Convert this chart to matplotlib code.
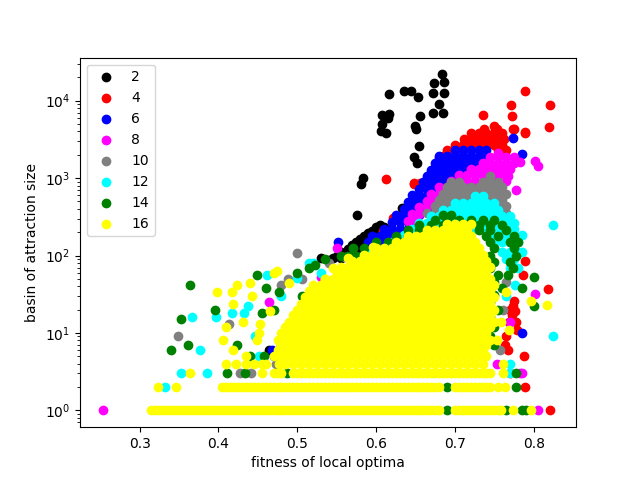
import matplotlib
matplotlib.use("Agg")
import matplotlib.pyplot as plt

labels = [2, 4, 6, 8, 10, 12, 14, 16]
colors = ["black", "red", "blue", "magenta", "gray", "cyan", "green", "yellow"]

# scattered (fitness, basin size) points
pts_2 = [(0.683, 21800), (0.686, 17500), (0.673, 16800), (0.636, 13500), (0.644, 13500),
         (0.617, 12100), (0.653, 11200), (0.672, 12600), (0.686, 12600), (0.680, 9060),
         (0.672, 6900), (0.685, 6900), (0.656, 6390), (0.608, 6600), (0.616, 6800),
         (0.615, 5960), (0.607, 4980), (0.606, 4070), (0.613, 3870), (0.649, 4730),
         (0.651, 4270), (0.654, 2600), (0.648, 1890), (0.652, 1580), (0.584, 1010),
         (0.581, 830), (0.576, 337), (0.633, 410), (0.464, 6), (0.470, 5)]
pts_4 = [(0.789, 13500), (0.821, 8900), (0.771, 8900), (0.736, 6600), (0.773, 6400),
         (0.819, 4500), (0.789, 3960), (0.775, 4300), (0.612, 970), (0.648, 830),
         (0.622, 305), (0.609, 205), (0.789, 84), (0.818, 37), (0.786, 56),
         (0.770, 20), (0.774, 22), (0.776, 19), (0.768, 14), (0.778, 14),
         (0.779, 11), (0.765, 9), (0.763, 7), (0.767, 6), (0.788, 5), (0.770, 3),
         (0.789, 2), (0.821, 1), (0.775, 26), (0.772, 17)]
pts_6 = [(0.774, 3300), (0.785, 2030), (0.680, 1840), (0.785, 10), (0.468, 6)]
pts_8 = [(0.782, 1620), (0.767, 1060), (0.778, 710), (0.802, 1660), (0.806, 1450),
         (0.550, 124), (0.530, 53), (0.464, 25), (0.802, 32), (0.770, 14),
         (0.753, 4), (0.782, 3), (0.785, 3), (0.806, 1), (0.253, 1)]
pts_10 = [(0.500, 107), (0.349, 9), (0.413, 13), (0.488, 50), (0.479, 41),
          (0.506, 50), (0.503, 9), (0.757, 6), (0.761, 20), (0.428, 3),
          (0.441, 3), (0.473, 4), (0.560, 95), (0.540, 80), (0.765, 45)]
pts_12 = [(0.776, 41), (0.825, 245), (0.824, 9), (0.770, 4), (0.770, 3),
          (0.367, 16), (0.397, 16), (0.417, 18), (0.376, 6), (0.353, 3), (0.385, 3),
          (0.332, 2), (0.462, 56), (0.438, 22), (0.520, 79), (0.515, 79), (0.500, 52),
          (0.432, 18), (0.447, 9), (0.452, 5), (0.605, 100), (0.614, 97),
          (0.580, 95), (0.590, 110), (0.530, 60), (0.480, 30), (0.765, 30)]
pts_14 = [(0.800, 53), (0.785, 38), (0.800, 22), (0.364, 41), (0.353, 15),
          (0.362, 7), (0.340, 6), (0.396, 20), (0.423, 7), (0.449, 56), (0.460, 38),
          (0.477, 34), (0.506, 30), (0.515, 30), (0.524, 34), (0.541, 38),
          (0.522, 76), (0.515, 68), (0.455, 18), (0.458, 5), (0.479, 7),
          (0.440, 5), (0.411, 3), (0.434, 3), (0.487, 3), (0.778, 3), (0.778, 2),
          (0.690, 2), (0.690, 1), (0.765, 1), (0.785, 1), (0.790, 1),
          (0.500, 60), (0.535, 90), (0.470, 20)]
pts_16 = [(0.398, 34), (0.417, 34), (0.423, 41), (0.440, 44), (0.470, 59),
          (0.474, 63), (0.443, 30), (0.418, 24), (0.431, 14), (0.409, 12),
          (0.406, 8), (0.419, 6), (0.435, 5), (0.490, 44), (0.596, 130),
          (0.564, 92), (0.545, 68), (0.535, 50), (0.466, 19), (0.453, 13),
          (0.451, 10), (0.449, 8), (0.797, 26), (0.817, 23), (0.768, 11),
          (0.765, 34), (0.759, 14), (0.753, 8)]

# dense parts of each cloud: basin size -> fitness values
rows_2 = {
    250: [0.605], 235: [0.600, 0.610], 210: [0.595, 0.605], 195: [0.590, 0.600],
    180: [0.585, 0.595], 165: [0.580, 0.590, 0.600], 150: [0.575, 0.585],
    135: [0.570, 0.580, 0.590], 122: [0.565, 0.575], 110: [0.555, 0.565, 0.575],
    100: [0.550, 0.560], 92: [0.530, 0.545, 0.555], 88: [0.540],
}
rows_4 = {
    4700: [0.750], 4300: [0.737, 0.753, 0.774],
    3800: [0.720, 0.730, 0.740, 0.750, 0.760, 0.789],
    3200: [0.712, 0.722, 0.732, 0.742, 0.752, 0.762],
    2700: [0.700, 0.710, 0.720, 0.730, 0.740, 0.750, 0.760],
    2300: [0.690, 0.700, 0.710, 0.755, 0.765], 1900: [0.685, 0.690], 1400: [0.675, 0.680],
    1200: [0.675], 870: [0.648, 0.656, 0.665],
}
rows_6 = {
    2300: [0.70, 0.71, 0.72, 0.73, 0.74],
    1900: [0.68, 0.69, 0.70, 0.71, 0.72, 0.73, 0.74],
    1550: [0.675, 0.685, 0.695, 0.705, 0.715, 0.725],
    1280: [0.67, 0.68, 0.69, 0.70, 0.71],
    1060: [0.665, 0.675, 0.685, 0.695, 0.705],
    880: [0.66, 0.67, 0.68, 0.69],
    730: [0.655, 0.665, 0.675, 0.685],
    600: [0.645, 0.655, 0.665, 0.675],
    490: [0.64, 0.65, 0.66, 0.67],
    400: [0.635, 0.645, 0.655, 0.665],
    330: [0.625, 0.635, 0.645, 0.655],
    270: [0.62, 0.63, 0.64, 0.65],
    220: [0.61, 0.62, 0.63, 0.64],
    180: [0.595, 0.605, 0.615, 0.625, 0.635],
    150: [0.552, 0.59, 0.60, 0.61, 0.62],
}
rows_8 = {
    2100: [0.755],
    1850: [0.745, 0.755, 0.765, 0.775],
    1550: [0.735, 0.745, 0.755, 0.765, 0.775],
    1300: [0.72, 0.73, 0.74, 0.75, 0.76, 0.77],
    1100: [0.705, 0.715, 0.725, 0.735, 0.745, 0.755, 0.765],
    920: [0.695, 0.705, 0.715, 0.725, 0.735, 0.745, 0.755, 0.765],
    760: [0.68, 0.69, 0.70],
    620: [0.67, 0.68, 0.69],
    510: [0.665, 0.675],
    420: [0.655, 0.665],
    340: [0.645, 0.655],
    280: [0.64, 0.65],
}
rows_10 = {
    1050: [0.745],
    900: [0.695, 0.705, 0.735, 0.745, 0.755],
    760: [0.69, 0.70, 0.71, 0.72, 0.73, 0.74, 0.75, 0.76],
    630: [0.685, 0.695, 0.705, 0.715, 0.725, 0.735, 0.745, 0.755, 0.765],
    520: [0.68, 0.69, 0.70, 0.71, 0.72, 0.73, 0.74, 0.75, 0.76],
    430: [0.675, 0.685, 0.695, 0.705, 0.715, 0.725, 0.735, 0.745, 0.755, 0.765],
    355: [0.665, 0.675, 0.685, 0.695, 0.705, 0.715, 0.725, 0.735, 0.745, 0.755, 0.765],
    290: [0.76], 240: [0.765],
}
rows_12 = {
    580: [0.725, 0.735],
    480: [0.70, 0.71, 0.72, 0.73, 0.74, 0.75],
    390: [0.685, 0.695, 0.705, 0.715, 0.725, 0.735, 0.745, 0.755],
    320: [0.67, 0.68, 0.69, 0.70, 0.71, 0.72, 0.73, 0.74, 0.75, 0.76, 0.77],
    265: [0.655, 0.665, 0.675, 0.685, 0.695, 0.705, 0.715, 0.725, 0.735, 0.745, 0.755,
          0.765, 0.775],
    220: [0.645, 0.655, 0.665, 0.675, 0.685, 0.695, 0.705, 0.715, 0.725, 0.735, 0.745,
          0.755, 0.765, 0.775],
    185: [0.635, 0.645, 0.655, 0.665, 0.675, 0.745, 0.755, 0.765, 0.775, 0.785],
    150: [0.62, 0.63, 0.64, 0.65, 0.66, 0.75, 0.76, 0.77, 0.78],
    112: [0.60, 0.61, 0.76, 0.77, 0.78, 0.785],
    90: [0.765, 0.775], 70: [0.77, 0.78],
}
rows_14 = {
    330: [0.685, 0.695],
    290: [0.675, 0.69, 0.705, 0.72, 0.735, 0.75],
    250: [0.655, 0.67, 0.685, 0.70, 0.715, 0.73, 0.745, 0.76],
    215: [0.64, 0.655, 0.67, 0.685, 0.70, 0.715, 0.73, 0.745, 0.765],
    180: [0.625, 0.64, 0.655, 0.67, 0.74, 0.755, 0.775],
    150: [0.60, 0.615, 0.63, 0.645, 0.66, 0.745, 0.77, 0.78],
    125: [0.571, 0.585, 0.60, 0.615, 0.75, 0.775],
    100: [0.555, 0.565, 0.575, 0.745, 0.778],
    82: [0.75, 0.77], 68: [0.745, 0.774], 56: [0.755, 0.767], 46: [0.75],
    38: [0.745, 0.76], 31: [0.75], 25: [0.745], 20: [0.755], 16: [0.745],
    12: [0.75], 9: [0.745], 7: [0.75],
}
rows_16 = {
    1: [0.314, 0.32, 0.325, 0.33, 0.335, 0.34, 0.345, 0.35, 0.355, 0.36, 0.365, 0.37,
        0.375, 0.38, 0.385, 0.39, 0.395, 0.40, 0.405, 0.41, 0.415, 0.42, 0.425, 0.43,
        0.435, 0.44, 0.445, 0.45, 0.455, 0.46, 0.465, 0.47, 0.475, 0.48, 0.485, 0.49,
        0.495, 0.50, 0.505, 0.51, 0.515, 0.52, 0.525, 0.53, 0.535, 0.54, 0.545, 0.55,
        0.555, 0.56, 0.565, 0.57, 0.575, 0.58, 0.585, 0.59, 0.595, 0.60, 0.605, 0.61,
        0.615, 0.62, 0.625, 0.63, 0.635, 0.64, 0.645, 0.65, 0.655, 0.66, 0.665, 0.67,
        0.675, 0.68, 0.70, 0.705, 0.71, 0.715, 0.72, 0.725, 0.73, 0.735, 0.74, 0.745,
        0.75, 0.755, 0.759, 0.774, 0.797],
    2: [0.323, 0.346, 0.404, 0.41, 0.415, 0.42, 0.425, 0.43, 0.435, 0.44, 0.445, 0.45,
        0.455, 0.46, 0.465, 0.47, 0.475, 0.48, 0.485, 0.49, 0.495, 0.50, 0.505, 0.51,
        0.515, 0.52, 0.525, 0.53, 0.535, 0.54, 0.545, 0.55, 0.555, 0.56, 0.565, 0.57,
        0.575, 0.58, 0.585, 0.59, 0.595, 0.60, 0.605, 0.61, 0.615, 0.62, 0.625, 0.63,
        0.635, 0.64, 0.645, 0.65, 0.655, 0.66, 0.665, 0.67, 0.675, 0.68, 0.70, 0.705,
        0.71, 0.715, 0.72, 0.725, 0.73, 0.735, 0.74, 0.745, 0.755, 0.763],
    3: [0.364, 0.455, 0.47, 0.475, 0.48, 0.495, 0.50, 0.505, 0.51, 0.515, 0.52, 0.525,
        0.53, 0.535, 0.54, 0.545, 0.55, 0.555, 0.56, 0.565, 0.57, 0.575, 0.58, 0.585,
        0.59, 0.595, 0.60, 0.605, 0.61, 0.615, 0.62, 0.625, 0.63, 0.635, 0.64, 0.645,
        0.65, 0.655, 0.66, 0.665, 0.67, 0.675, 0.68, 0.685, 0.69, 0.695, 0.70, 0.705,
        0.71, 0.715, 0.72, 0.725, 0.73, 0.735, 0.74, 0.745, 0.761],
    4: [0.41, 0.422, 0.435, 0.445, 0.455, 0.46, 0.477, 0.485, 0.495, 0.505, 0.515,
        0.525, 0.535, 0.545, 0.555, 0.565, 0.575, 0.585, 0.595, 0.605, 0.615, 0.625,
        0.635, 0.645, 0.655, 0.665, 0.675, 0.685, 0.695, 0.705, 0.715, 0.725, 0.735,
        0.761],
    5: [0.47, 0.48, 0.49, 0.50, 0.51, 0.52, 0.53, 0.54, 0.55, 0.56, 0.57, 0.58, 0.59,
        0.60, 0.61, 0.62, 0.63, 0.64, 0.65, 0.66, 0.67, 0.68, 0.69, 0.70, 0.71, 0.72,
        0.73, 0.74],
    6: [0.475, 0.485, 0.495, 0.505, 0.515, 0.525, 0.535, 0.545, 0.555, 0.565, 0.575,
        0.585, 0.595, 0.605, 0.615, 0.625, 0.635, 0.645, 0.655, 0.665, 0.675, 0.685,
        0.695, 0.705, 0.715, 0.725, 0.735],
    7: [0.48, 0.49, 0.50, 0.51, 0.52, 0.53, 0.54, 0.55, 0.56, 0.57, 0.58, 0.59, 0.60,
        0.61, 0.62, 0.63, 0.64, 0.65, 0.66, 0.67, 0.68, 0.69, 0.70, 0.71, 0.72, 0.73,
        0.74],
    8: [0.475, 0.485, 0.495, 0.505, 0.515, 0.525, 0.535, 0.545, 0.555, 0.565, 0.575,
        0.585, 0.595, 0.605, 0.615, 0.625, 0.635, 0.645, 0.655, 0.665, 0.675, 0.685,
        0.695, 0.705, 0.715, 0.725, 0.735, 0.745],
    10: [0.48, 0.49, 0.50, 0.51, 0.52, 0.53, 0.54, 0.55, 0.56, 0.57, 0.58, 0.59, 0.60,
         0.61, 0.62, 0.63, 0.64, 0.65, 0.66, 0.67, 0.68, 0.69, 0.70, 0.71, 0.72, 0.73,
         0.74],
    12: [0.485, 0.495, 0.505, 0.515, 0.525, 0.535, 0.545, 0.555, 0.565, 0.575, 0.585,
         0.595, 0.605, 0.615, 0.625, 0.635, 0.645, 0.655, 0.665, 0.675, 0.685, 0.695,
         0.705, 0.715, 0.725, 0.735, 0.745],
    14: [0.49, 0.50, 0.51, 0.52, 0.53, 0.54, 0.55, 0.56, 0.57, 0.58, 0.59, 0.60, 0.61,
         0.62, 0.63, 0.64, 0.65, 0.66, 0.67, 0.68, 0.69, 0.70, 0.71, 0.72, 0.73, 0.74,
         0.75],
    17: [0.495, 0.505, 0.515, 0.525, 0.535, 0.545, 0.555, 0.565, 0.575, 0.585, 0.595,
         0.605, 0.615, 0.625, 0.635, 0.645, 0.655, 0.665, 0.675, 0.685, 0.695, 0.705,
         0.715, 0.725, 0.735, 0.745],
    20: [0.50, 0.51, 0.52, 0.53, 0.54, 0.55, 0.56, 0.57, 0.58, 0.59, 0.60, 0.61, 0.62,
         0.63, 0.64, 0.65, 0.66, 0.67, 0.68, 0.69, 0.70, 0.71, 0.72, 0.73, 0.74, 0.75],
    24: [0.505, 0.515, 0.525, 0.535, 0.545, 0.555, 0.565, 0.575, 0.585, 0.595, 0.605,
         0.615, 0.625, 0.635, 0.645, 0.655, 0.665, 0.675, 0.685, 0.695, 0.705, 0.715,
         0.725, 0.735, 0.745],
    29: [0.51, 0.52, 0.53, 0.54, 0.55, 0.56, 0.57, 0.58, 0.59, 0.60, 0.61, 0.62, 0.63,
         0.64, 0.65, 0.66, 0.67, 0.68, 0.69, 0.70, 0.71, 0.72, 0.73, 0.74, 0.75],
    35: [0.515, 0.525, 0.535, 0.545, 0.555, 0.565, 0.575, 0.585, 0.595, 0.605, 0.615,
         0.625, 0.635, 0.645, 0.655, 0.665, 0.675, 0.685, 0.695, 0.705, 0.715, 0.725,
         0.735, 0.745],
    42: [0.52, 0.53, 0.54, 0.55, 0.56, 0.57, 0.58, 0.59, 0.60, 0.61, 0.62, 0.63, 0.64,
         0.65, 0.66, 0.67, 0.68, 0.69, 0.70, 0.71, 0.72, 0.73, 0.74, 0.75],
    50: [0.535, 0.545, 0.555, 0.565, 0.575, 0.585, 0.595, 0.605, 0.615, 0.625, 0.635,
         0.645, 0.655, 0.665, 0.675, 0.685, 0.695, 0.705, 0.715, 0.725, 0.735, 0.745],
    60: [0.55, 0.56, 0.57, 0.58, 0.59, 0.60, 0.61, 0.62, 0.63, 0.64, 0.65, 0.66, 0.67,
         0.68, 0.69, 0.70, 0.71, 0.72, 0.73, 0.74],
    72: [0.555, 0.565, 0.575, 0.585, 0.595, 0.605, 0.615, 0.625, 0.635, 0.645, 0.655,
         0.665, 0.675, 0.685, 0.695, 0.705, 0.715, 0.725, 0.735, 0.745],
    86: [0.57, 0.58, 0.59, 0.60, 0.61, 0.62, 0.63, 0.64, 0.65, 0.66, 0.67, 0.68, 0.69,
         0.70, 0.71, 0.72, 0.73, 0.74],
    103: [0.585, 0.595, 0.605, 0.615, 0.625, 0.635, 0.645, 0.655, 0.665, 0.675, 0.685,
          0.695, 0.705, 0.715, 0.725, 0.735],
    124: [0.60, 0.61, 0.62, 0.63, 0.64, 0.65, 0.66, 0.67, 0.68, 0.69, 0.70, 0.71, 0.72,
          0.73],
    149: [0.625, 0.635, 0.645, 0.655, 0.665, 0.675, 0.685, 0.695, 0.705, 0.715, 0.725],
    178: [0.64, 0.65, 0.66, 0.67, 0.68, 0.69, 0.70, 0.71, 0.72],
    214: [0.665, 0.675, 0.685, 0.695, 0.705, 0.715],
    257: [0.69, 0.70, 0.71, 0.72],
}

all_pts = [pts_2, pts_4, pts_6, pts_8, pts_10, pts_12, pts_14, pts_16]
all_rows = [rows_2, rows_4, rows_6, rows_8, rows_10, rows_12, rows_14, rows_16]

plt.figure(figsize=(6.4, 4.8), dpi=100)

for k, col, pts, rows in zip(labels, colors, all_pts, all_rows):
    xs = [p[0] for p in pts]
    ys = [p[1] for p in pts]
    for size, fits in rows.items():
        xs += fits
        ys += [size] * len(fits)
    plt.scatter(xs, ys, color=col, label=str(k))

plt.yscale("log")
plt.xlabel("fitness of local optima")
plt.ylabel("basin of attraction size")
plt.legend(loc="upper left")

plt.savefig("out.png", dpi=100)
